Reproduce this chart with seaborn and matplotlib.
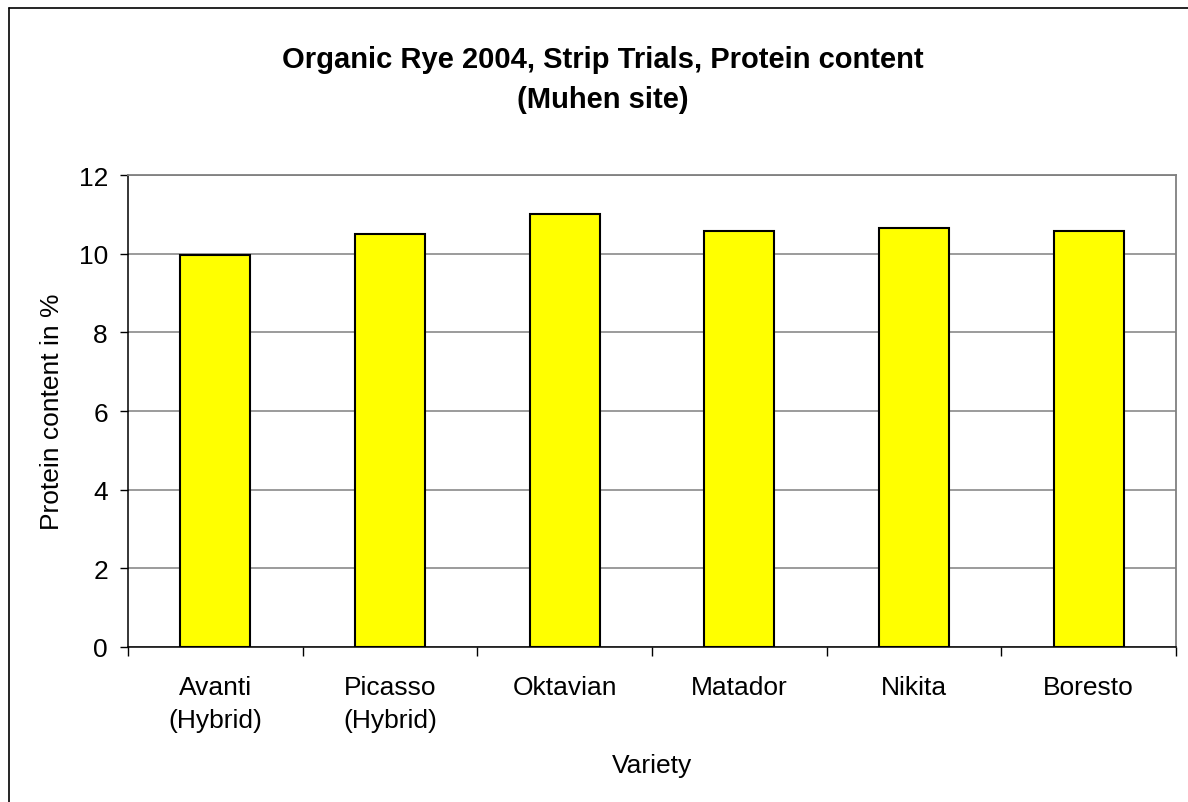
import matplotlib
matplotlib.use("Agg")
import matplotlib.pyplot as plt
import seaborn as sns
import pandas as pd
from matplotlib.lines import Line2D
from matplotlib.ticker import FixedLocator

# -----------------------------
# Dados
# -----------------------------
varieties = ["Avanti\n(Hybrid)", "Picasso\n(Hybrid)", "Oktavian", "Matador", "Nikita", "Boresto"]
protein = [9.97, 10.51, 11.0, 10.58, 10.65, 10.57]
y_ticks = [0, 2, 4, 6, 8, 10, 12]

title = "Organic Rye 2004, Strip Trials, Protein content\n(Muhen site)"
x_label = "Variety"
y_label = "Protein content in %"

df = pd.DataFrame({"variety": varieties, "protein": protein})

# -----------------------------
# Estilo
# -----------------------------
sns.set_theme(style="white")
plt.rcParams["font.family"] = ["Liberation Sans", "DejaVu Sans"]

fig = plt.figure(figsize=(11.88, 8.03), dpi=100)
ax = fig.add_axes([128 / 1188, 1 - 648 / 803, 1048 / 1188, 472 / 803])

sns.barplot(data=df, x="variety", y="protein", color="#FFFF00", saturation=1,
            edgecolor="black", linewidth=1.5, width=0.4, ax=ax, zorder=3)

# eixos
ax.set_xlim(-0.5, len(varieties) - 0.5)
ax.set_ylim(0, 12)
ax.set_yticks(y_ticks)
ax.yaxis.grid(True, color="#808080", linewidth=1.1, zorder=0)
ax.set_axisbelow(True)

for side in ["top", "right"]:
    ax.spines[side].set_color("#808080")
    ax.spines[side].set_linewidth(1.3)
for side in ["left", "bottom"]:
    ax.spines[side].set_color("black")
    ax.spines[side].set_linewidth(1.1)

# ticks do x nos limites das categorias
ax.xaxis.set_minor_locator(FixedLocator([i - 0.5 for i in range(len(varieties) + 1)]))
ax.tick_params(axis="x", which="minor", direction="out", length=6.5, width=1, color="black", bottom=True)
ax.tick_params(axis="x", which="major", length=0, pad=20, labelsize=19, labelcolor="black")
ax.tick_params(axis="y", which="major", direction="out", length=5.8, width=1, color="black",
               left=True, pad=8.6, labelsize=19, labelcolor="black")
for lbl in ax.get_xticklabels():
    lbl.set_linespacing(1.47)

ax.set_xlabel(x_label, fontsize=19, color="black", va="center")
ax.xaxis.set_label_coords(0.5, (648 - 766) / 472)
ax.set_ylabel(y_label, fontsize=19, color="black", va="center")
ax.yaxis.set_label_coords((52 - 128) / 1048, 0.5)

fig.text(603 / 1188, 1 - 80 / 803, title, ha="center", va="center",
         fontsize=21, fontweight="bold", linespacing=1.5, color="black")

# borda externa da área do gráfico
fig.add_artist(Line2D([8.5 / 1188, 8.5 / 1188], [0, 1 - 9 / 803], transform=fig.transFigure,
                      color="black", linewidth=1.2))
fig.add_artist(Line2D([8.5 / 1188, 1], [1 - 9 / 803, 1 - 9 / 803], transform=fig.transFigure,
                      color="black", linewidth=1.2))

fig.savefig("out.png", dpi=100, facecolor="white")
